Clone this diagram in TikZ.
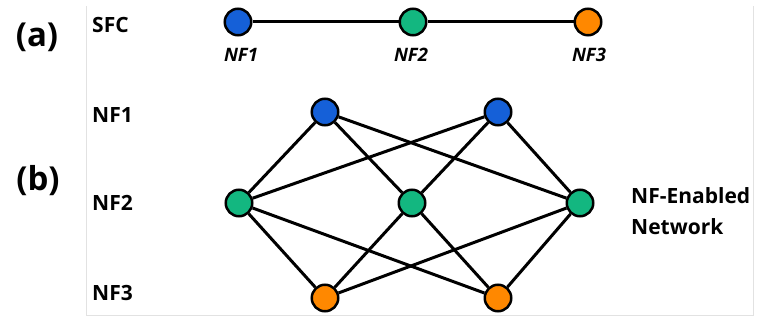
\documentclass[tikz,border=0pt]{standalone}
\usepackage{fontspec}
\setmainfont{Open Sans}
\usetikzlibrary{calc}
\definecolor{nfblue}{RGB}{21,96,216}
\definecolor{nfgreen}{RGB}{19,183,128}
\definecolor{nforange}{RGB}{255,136,0}
\definecolor{framegray}{RGB}{226,226,226}
\tikzset{
	nf/.style={circle, draw=black, line width=2.5pt, minimum size=26.5pt, inner sep=0pt},
	link/.style={line width=3pt, color=black},
	rowlabel/.style={anchor=west, inner sep=0pt, font=\fontsize{21}{25}\selectfont\bfseries},
	partlabel/.style={inner sep=0pt, font=\fontsize{33}{38}\selectfont\bfseries},
	sfclabel/.style={inner sep=0pt, font=\fontsize{18.5}{22}\selectfont\bfseries\itshape}
}

\begin{document}
\begin{tikzpicture}[x=1pt, y=-1pt]
			%%%%% START %%%%%
			\useasboundingbox (0, 0) rectangle (775, 320);
			
			\draw[line width=1pt, color=framegray] (86, 6) -- (86, 315) -- (753, 315) -- (753, 6);
			
			\node[partlabel] (parta) at (37, 37) {(a)};
			\node[partlabel] (partb) at (38, 181) {(b)};
			
			\node[rowlabel] (sfc) at (92, 25) {SFC};
			\node[rowlabel] (row1) at (92, 115) {NF1};
			\node[rowlabel] (row2) at (92, 203) {NF2};
			\node[rowlabel] (row3) at (92, 293) {NF3};
			
			% service function chain
			\node[nf, fill=nfblue] (s1) at (238, 22) {};
			\node[nf, fill=nfgreen] (s2) at (413, 22) {};
			\node[nf, fill=nforange] (s3) at (588, 22) {};
			\draw[link] (s1) -- (s2) -- (s3);
			\node[sfclabel] (l1) at (241, 55) {NF1};
			\node[sfclabel] (l2) at (411, 55) {NF2};
			\node[sfclabel] (l3) at (589, 55) {NF3};
			
			% network
			\node[nf, fill=nfblue] (b1) at (325, 112) {};
			\node[nf, fill=nfblue] (b2) at (498, 112) {};
			\node[nf, fill=nfgreen] (g1) at (239, 203) {};
			\node[nf, fill=nfgreen] (g2) at (412, 203) {};
			\node[nf, fill=nfgreen] (g3) at (580, 203) {};
			\node[nf, fill=nforange] (o1) at (325, 298) {};
			\node[nf, fill=nforange] (o2) at (498, 298) {};
			
			\draw[link] (b1) -- (g1);
			\draw[link] (b1) -- (g2);
			\draw[link] (b1) -- (g3);
			\draw[link] (b2) -- (g1);
			\draw[link] (b2) -- (g2);
			\draw[link] (b2) -- (g3);
			
			\draw[link] (g1) -- (o1);
			\draw[link] (g1) -- (o2);
			\draw[link] (g2) -- (o1);
			\draw[link] (g2) -- (o2);
			\draw[link] (g3) -- (o1);
			\draw[link] (g3) -- (o2);
			
			\node[anchor=west, inner sep=0pt, align=left, font=\fontsize{21}{30.5}\selectfont\bfseries] (net) at (631, 211) {NF-Enabled\\Network};
			%%%%% END %%%%%
\end{tikzpicture}
\end{document}
